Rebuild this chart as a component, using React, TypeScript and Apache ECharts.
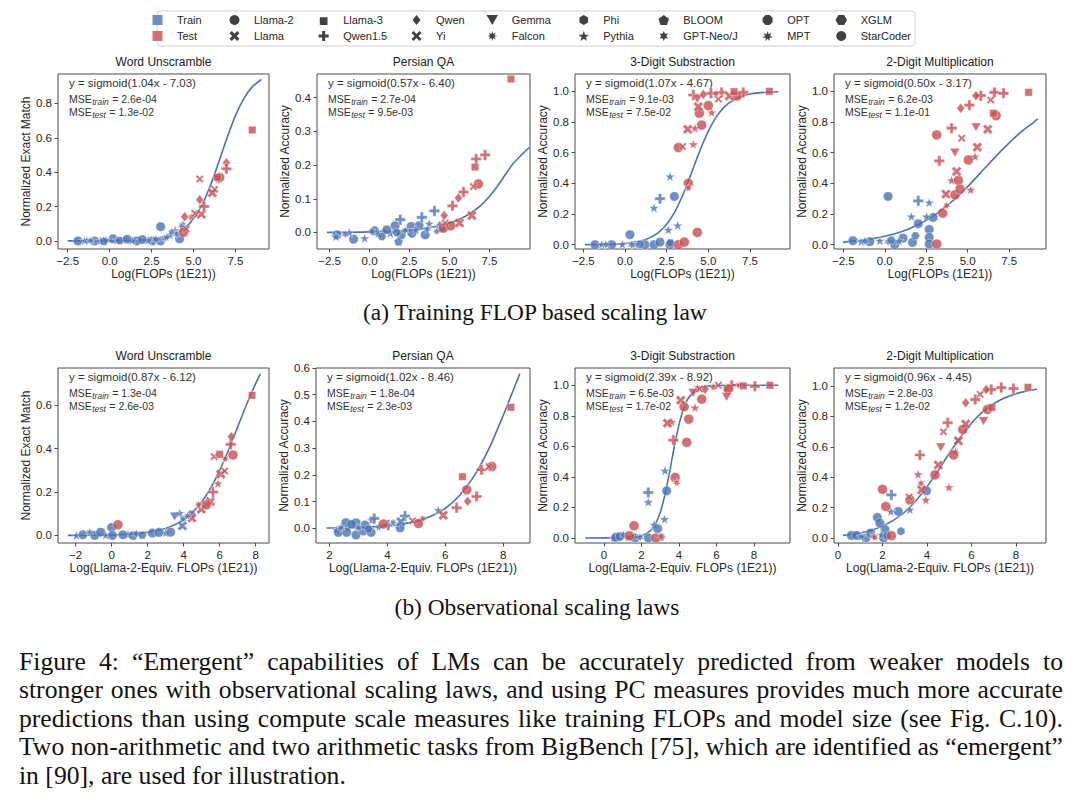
import React, { useEffect, useRef } from "react";
import * as echarts from "echarts";

// ---------------- data ----------------
const TASKS = ["Word Unscramble", "Persian QA", "3-Digit Substraction", "2-Digit Multiplication"];
const Y_NAMES = ["Normalized Exact Match", "Normalized Accuracy", "Normalized Accuracy", "Normalized Accuracy"];
const X_NAMES = ["Log(FLOPs (1E21))", "Log(Llama-2-Equiv. FLOPs (1E21))"];

const FORMULAS = [
  "y = sigmoid(1.04x - 7.03)", "y = sigmoid(0.57x - 6.40)", "y = sigmoid(1.07x - 4.67)", "y = sigmoid(0.50x - 3.17)",
  "y = sigmoid(0.87x - 6.12)", "y = sigmoid(1.02x - 8.46)", "y = sigmoid(2.39x - 8.92)", "y = sigmoid(0.96x - 4.45)",
];
const MSE_TRAIN = ["2.6e-04", "2.7e-04", "9.1e-03", "6.2e-03", "1.3e-04", "1.8e-04", "6.5e-03", "2.8e-03"];
const MSE_TEST = ["1.3e-02", "9.5e-03", "7.5e-02", "1.1e-01", "2.6e-03", "2.3e-03", "1.7e-02", "1.2e-02"];

const X_TICKS = [
  [-2.5, 0, 2.5, 5, 7.5], [-2.5, 0, 2.5, 5, 7.5], [-2.5, 0, 2.5, 5, 7.5], [-2.5, 0, 2.5, 5, 7.5],
  [-2, 0, 2, 4, 6, 8], [2, 4, 6, 8], [0, 2, 4, 6, 8], [0, 2, 4, 6, 8],
];
const Y_TICKS = [
  [0, 0.2, 0.4, 0.6, 0.8], [0, 0.1, 0.2, 0.3, 0.4], [0, 0.2, 0.4, 0.6, 0.8, 1.0], [0, 0.2, 0.4, 0.6, 0.8, 1.0],
  [0, 0.2, 0.4, 0.6], [0, 0.1, 0.2, 0.3, 0.4, 0.5, 0.6], [0, 0.2, 0.4, 0.6, 0.8, 1.0], [0, 0.2, 0.4, 0.6, 0.8, 1.0],
];
const X_LIMITS = [[-3.08, 9.5], [-3.29, 10.04], [-3.0, 9.9], [-3.06, 9.72], [-2.98, 8.74], [1.54, 8.92], [-1.55, 9.92], [-0.18, 9.35]];
const Y_LIMITS = [[-0.047, 0.971], [-0.049, 0.47], [-0.028, 1.113], [-0.028, 1.113], [-0.035, 0.772], [-0.055, 0.6], [-0.033, 1.113], [-0.033, 1.118]];

// points: [x, y, family code]
const WU_FLOP_TRAIN = [
  [-1.89, 0, "SC"], [-1.5, 0.002, "Py"], [-1.35, 0, "GN"], [-1.15, 0.001, "F"], [-0.9, 0, "SC"], [-0.55, 0.002, "Py"],
  [-0.35, 0, "B"], [-0.2, 0.003, "GN"], [0.2, 0.012, "SC"], [0.45, 0.004, "Py"], [0.6, 0.002, "X"], [0.85, 0.006, "GN"],
  [1.05, 0.01, "OPT"], [1.35, 0.003, "Py"], [1.6, 0, "SC"], [1.95, 0.008, "OPT"], [2.3, 0.004, "Py"], [2.55, 0, "SC"],
  [2.75, 0.01, "GN"], [3.04, 0.083, "SC"], [3.04, 0, "SC"], [3.25, 0.015, "F"], [3.4, 0.022, "MPT"], [3.6, 0.035, "Py"],
  [3.7, 0.05, "GN"], [3.9, 0.062, "Py"], [4.0, 0.04, "F"], [4.17, 0.012, "SC"], [4.3, 0.085, "MPT"], [4.37, 0.095, "GN"],
];
const WU_FLOP_TEST = [
  [4.4, 0.05, "L2"], [4.47, 0.14, "Q"], [4.57, 0.07, "Yi"], [4.87, 0.14, "MPT"], [5.07, 0.16, "Yi"], [5.37, 0.24, "Q"],
  [5.37, 0.36, "Yi"], [5.47, 0.155, "L"], [5.63, 0.2, "Q15"], [6.12, 0.28, "L"], [6.26, 0.3, "Yi"], [6.42, 0.37, "L3"],
  [6.56, 0.37, "L2"], [6.5, 0.35, "F"], [6.96, 0.455, "Q"], [6.96, 0.42, "Q15"], [8.5, 0.645, "L3"],
];
const PQA_FLOP_TRAIN = [
  [-2.04, -0.007, "SC"], [-2.1, -0.012, "Py"], [-1.52, -0.005, "GN"], [-1.27, 0, "Py"], [-1.0, -0.02, "SC"],
  [-0.31, -0.017, "Py"], [0.15, 0.003, "GN"], [0.31, 0.005, "SC"], [0.55, -0.003, "Py"], [0.77, -0.012, "X"],
  [0.9, 0.002, "GN"], [1.08, 0.008, "OPT"], [1.3, -0.002, "Py"], [1.6, 0.02, "SC"], [1.7, 0, "X"], [1.81, -0.027, "B"],
  [1.92, 0.038, "Q15"], [1.98, -0.007, "SC"], [2.23, 0.006, "GN"], [2.6, 0.018, "SC"], [2.65, -0.002, "SC"],
  [2.9, 0.008, "Py"], [3.1, 0.02, "SC"], [3.27, 0.045, "Q15"], [3.48, -0.007, "SC"], [3.6, 0.01, "MPT"],
  [3.73, 0.026, "Py"], [4.06, 0.064, "Q15"], [4.2, 0.003, "F"], [4.4, 0.025, "MPT"], [4.48, 0.013, "OPT"],
];
const PQA_FLOP_TEST = [
  [4.62, 0.013, "L2"], [4.67, 0.05, "Q"], [4.73, 0.028, "Yi"], [5.08, 0.02, "L2"], [5.19, 0.079, "Q15"],
  [5.56, 0.102, "Q"], [5.63, 0.028, "L"], [5.88, 0.12, "Q15"], [6.4, 0.05, "L"], [6.5, 0.136, "Yi"],
  [6.6, 0.194, "L3"], [6.67, 0.218, "Q15"], [6.81, 0.144, "L2"], [7.23, 0.23, "Q15"], [8.85, 0.455, "L3"],
];
const SUB_FLOP_TRAIN = [
  [-1.8, 0, "SC"], [-1.4, 0.002, "Py"], [-1.15, 0, "GN"], [-0.8, 0, "SC"], [-0.16, 0.003, "Py"], [0.3, 0.065, "SC"],
  [0.4, 0, "GN"], [0.6, 0.003, "Py"], [0.9, 0.002, "X"], [1.2, 0, "SC"], [1.74, 0.24, "Py"], [1.74, 0, "SC"],
  [2.1, 0.3, "Q15"], [2.1, 0.017, "SC"], [2.6, 0.097, "Py"], [2.7, 0.445, "Py"], [2.7, 0, "SC"], [2.72, 0.012, "X"],
  [2.96, 0.315, "SC"], [3.16, 0.126, "Py"],
];
const SUB_FLOP_TEST = [
  [3.2, 0, "L2"], [3.56, 0.017, "L2"], [3.2, 0.633, "L2"], [3.46, 0.64, "Yi"], [3.8, 0.4, "L2"], [3.8, 0.37, "MPT"],
  [3.76, 0.753, "L"], [4.1, 0.655, "Py"], [4.2, 0.76, "Py"], [4.34, 0.08, "L2"], [4.1, 0.976, "Q15"], [4.34, 0.95, "G"],
  [4.4, 0.9, "L"], [4.46, 0.857, "L2"], [4.6, 0.78, "L2"], [4.7, 0.98, "Q"], [5.0, 0.907, "L2"], [5.16, 0.987, "Q15"],
  [5.2, 0.863, "Py"], [5.46, 0.987, "MPT"], [5.6, 0.95, "Yi"], [5.8, 0.993, "Q15"], [6.26, 0.97, "L"],
  [6.54, 0.998, "L3"], [6.72, 0.97, "L2"], [7.1, 0.993, "Q15"], [8.66, 1.0, "L3"],
];
const MUL_FLOP_TRAIN = [
  [-1.92, 0.026, "SC"], [-1.41, 0.02, "Py"], [-1.2, 0.022, "GN"], [-0.9, 0.02, "SC"], [-0.3, 0.026, "Py"],
  [0.2, 0.315, "SC"], [0.2, 0.02, "GN"], [0.4, 0.03, "X"], [0.6, 0, "SC"], [0.85, 0.025, "Py"], [1.1, 0.043, "SC"],
  [1.61, 0.184, "Py"], [1.67, 0.015, "SC"], [1.85, 0.058, "X"], [2.02, 0.137, "SC"], [2.02, 0.286, "Q15"],
  [2.52, 0.184, "Py"], [2.68, 0.275, "Py"], [2.68, 0.1, "SC"], [2.68, 0.048, "SC"], [2.68, 0.004, "SC"], [2.92, 0.178, "SC"],
];
const MUL_FLOP_TEST = [
  [3.13, 0.004, "L2"], [3.13, 0.716, "L2"], [3.29, 0.547, "Q15"], [3.49, 0.206, "L2"], [3.73, 0.256, "MPT"],
  [3.69, 0.33, "L"], [4.03, 0.42, "Py"], [4.03, 0.76, "Q15"], [4.23, 0.6, "G"], [4.23, 0.325, "L2"], [4.33, 0.477, "L"],
  [4.44, 0.419, "L2"], [4.54, 0.362, "L2"], [4.58, 0.889, "Q"], [4.64, 0.694, "Yi"], [5.04, 0.553, "L2"],
  [5.1, 0.91, "Q15"], [5.18, 0.358, "Py"], [5.44, 0.575, "Py"], [5.5, 0.766, "G"], [5.58, 0.636, "L"], [5.5, 0.972, "Q"],
  [5.79, 0.972, "Q15"], [6.21, 0.753, "L"], [6.39, 0.944, "Yi"], [6.61, 0.993, "Q15"], [6.55, 0.857, "L3"],
  [6.71, 0.842, "L2"], [7.16, 0.987, "Q15"], [8.67, 0.993, "L3"],
];
const WU_OBS_TRAIN = [
  [-1.96, 0, "Py"], [-1.6, 0.003, "SC"], [-1.22, 0.014, "GN"], [-0.94, 0, "SC"], [-0.61, 0.015, "SC"], [-0.33, 0.001, "Py"],
  [0, 0.037, "SC"], [0.04, 0, "SC"], [0.63, 0.003, "SC"], [0.9, 0.005, "Py"], [1.19, 0, "SC"], [1.37, 0.008, "GN"],
  [1.7, 0.001, "X"], [2.26, 0.011, "SC"], [2.63, 0.014, "SC"], [3.0, 0.012, "Py"], [3.28, 0.015, "SC"], [3.5, 0.087, "G"],
  [3.78, 0.103, "Py"], [3.93, 0.044, "L"], [3.96, 0.077, "GN"], [4.2, 0.09, "MPT"], [4.43, 0.098, "X"],
];
const WU_OBS_TEST = [
  [0.35, 0.049, "L2"], [4.46, 0.08, "L"], [4.83, 0.144, "MPT"], [4.98, 0.121, "L"], [5.26, 0.141, "L2"], [5.48, 0.156, "L"],
  [5.63, 0.2, "Q15"], [5.91, 0.24, "Py"], [6.06, 0.282, "L"], [6.28, 0.297, "Yi"], [5.69, 0.363, "Yi"], [6.0, 0.374, "L3"],
  [6.31, 0.355, "MPT"], [6.61, 0.42, "Q15"], [6.65, 0.455, "Q"], [6.74, 0.371, "L2"], [7.8, 0.646, "L3"],
];
const PQA_OBS_TRAIN = [
  [2.25, -0.006, "Py"], [2.31, -0.015, "SC"], [2.4, 0.002, "GN"], [2.57, 0.021, "SC"], [2.6, -0.015, "SC"],
  [2.65, 0.002, "Py"], [2.77, 0.015, "OPT"], [2.92, 0.021, "SC"], [2.92, -0.025, "SC"], [3.0, 0.002, "GN"],
  [3.17, -0.01, "SC"], [3.23, 0.012, "SC"], [3.35, -0.003, "X"], [3.44, -0.015, "SC"], [3.46, 0.031, "Py"],
  [3.55, 0.037, "Q15"], [3.7, 0.005, "MPT"], [4.03, 0.012, "Q15"], [4.2, 0.022, "F"], [4.44, 0.002, "SC"],
  [4.47, 0.025, "L"], [4.61, 0.046, "Q15"], [5.76, 0.068, "Py"],
];
const PQA_OBS_TEST = [
  [3.86, 0.016, "L2"], [4.87, 0.028, "Yi"], [5.07, 0.018, "L2"], [5.22, 0.037, "MPT"], [5.93, 0.049, "L"],
  [6.39, 0.077, "Q15"], [6.59, 0.193, "L3"], [6.74, 0.144, "L2"], [6.77, 0.101, "Q"], [7.08, 0.119, "Q15"],
  [7.25, 0.219, "Q15"], [7.5, 0.231, "Yi"], [7.6, 0.231, "L2"], [8.26, 0.453, "L3"],
];
const SUB_OBS_TRAIN = [
  [0.5, 0, "Py"], [0.62, 0.004, "SC"], [0.85, 0.01, "SC"], [1.03, 0.02, "GN"], [1.3, 0.003, "Py"], [1.65, 0, "SC"],
  [1.92, 0.004, "GN"], [2.36, 0, "SC"], [2.36, 0.298, "Q15"], [2.36, 0.235, "Py"], [2.67, 0.087, "Py"],
  [2.86, 0.061, "SC"], [3.04, 0.005, "X"], [3.22, 0.124, "Py"], [3.25, 0.441, "Py"], [3.34, 0.309, "SC"],
];
const SUB_OBS_TEST = [
  [1.35, 0.015, "L2"], [1.6, 0.08, "L2"], [2.76, 0, "L2"], [3.04, 0.01, "MPT"], [3.79, 0.396, "L2"], [3.88, 0.363, "MPT"],
  [3.38, 0.752, "L"], [3.61, 0.761, "Py"], [3.7, 0.641, "Q15"], [4.09, 0.902, "L"], [4.27, 0.859, "L2"],
  [4.41, 0.626, "L2"], [4.52, 0.778, "L2"], [4.85, 0.854, "Py"], [4.76, 0.95, "G"], [4.98, 0.983, "MPT"],
  [5.1, 0.975, "Yi"], [5.21, 0.909, "L2"], [5.39, 0.974, "Q"], [5.83, 0.989, "MPT"], [6.1, 1.0, "Yi"], [6.54, 0.924, "G"],
  [6.54, 0.983, "Py"], [6.63, 0.974, "L2"], [6.81, 1.0, "Q15"], [7.2, 1.0, "MPT"], [7.43, 0.996, "L3"],
  [8.05, 0.993, "Q15"], [8.85, 1.0, "L3"],
];
const MUL_OBS_TRAIN = [
  [0.6, 0.017, "SC"], [0.83, 0.017, "SC"], [1.05, 0.011, "Py"], [1.25, 0, "SC"], [1.47, 0.033, "SC"], [1.6, 0.01, "GN"],
  [1.77, 0.135, "SC"], [1.88, 0.098, "SC"], [1.95, 0.022, "Py"], [2.05, 0, "SC"], [2.11, 0.055, "SC"], [2.2, 0.015, "X"],
  [2.4, 0.284, "Q15"], [2.38, 0.175, "Py"], [2.71, 0.175, "SC"], [2.83, 0.044, "Phi"], [3.23, 0.186, "Py"], [3.98, 0.31, "SC"],
];
const MUL_OBS_TEST = [
  [1.65, 0.005, "MPT"], [2.0, 0.32, "L2"], [2.15, 0.207, "L2"], [2.4, 0.015, "L2"], [3.23, 0.251, "L2"], [3.2, 0.27, "Yi"],
  [3.6, 0.419, "Py"], [3.68, 0.546, "Q15"], [3.73, 0.36, "MPT"], [3.76, 0.317, "L"], [3.95, 0.251, "Py"],
  [4.36, 0.415, "L2"], [4.51, 0.48, "L"], [4.62, 0.596, "G"], [4.74, 0.699, "Yi"], [4.93, 0.758, "Q15"],
  [4.99, 0.334, "Py"], [5.2, 0.546, "L2"], [5.28, 0.57, "MPT"], [5.41, 0.64, "L"], [5.61, 0.714, "L2"],
  [5.74, 0.749, "L"], [5.74, 0.889, "Q"], [6.17, 0.91, "Q15"], [6.39, 0.945, "Yi"], [6.54, 0.769, "G"],
  [6.66, 0.976, "Q"], [6.89, 0.976, "Q15"], [6.72, 0.845, "L2"], [6.92, 0.858, "L3"], [7.34, 0.989, "Q15"],
  [7.89, 0.983, "Q15"], [8.54, 0.991, "L3"],
];

// fitted curves
const WU_FLOP_FIT = [[-2.5, 0.0], [0, 0.0005], [1, 0.0014], [2, 0.0045], [3, 0.014], [3.5, 0.025], [4, 0.044], [4.5, 0.076], [5, 0.129], [5.5, 0.209], [6, 0.32], [6.5, 0.457], [7, 0.6], [7.5, 0.729], [8, 0.828], [8.5, 0.896], [9.05, 0.939]];
const PQA_FLOP_FIT = [[-2.67, 0.0004], [0, 0.0017], [2, 0.0052], [3, 0.0091], [4, 0.016], [5, 0.028], [5.5, 0.037], [6, 0.048], [6.5, 0.063], [7, 0.082], [7.5, 0.107], [8, 0.137], [8.5, 0.172], [9, 0.205], [9.5, 0.23], [10.0, 0.252]];
const SUB_FLOP_FIT = [[-2.4, 0.0005], [-1, 0.0026], [0, 0.008], [1, 0.026], [1.5, 0.046], [2, 0.079], [2.5, 0.134], [3, 0.216], [3.5, 0.332], [4, 0.471], [4.5, 0.615], [5, 0.741], [5.5, 0.837], [6, 0.902], [6.5, 0.943], [7, 0.967], [7.5, 0.982], [8, 0.99], [8.5, 0.994], [9.2, 0.997]];
const MUL_FLOP_FIT = [[-2.52, 0.017], [-2, 0.022], [-1, 0.035], [0, 0.055], [1, 0.085], [2, 0.13], [3, 0.193], [4, 0.277], [5, 0.379], [6, 0.495], [7, 0.61], [8, 0.715], [9, 0.8], [9.23, 0.82]];
const WU_OBS_FIT = [[-2.43, 0.0003], [0, 0.0026], [1, 0.006], [2, 0.014], [3, 0.032], [3.5, 0.049], [4, 0.072], [4.5, 0.107], [5, 0.154], [5.5, 0.218], [6, 0.3], [6.5, 0.395], [7, 0.5], [7.5, 0.605], [8, 0.7], [8.26, 0.745]];
const PQA_OBS_FIT = [[1.9, 0.0009], [3, 0.003], [4, 0.009], [5, 0.026], [5.5, 0.045], [6, 0.075], [6.5, 0.124], [7, 0.197], [7.5, 0.297], [8, 0.423], [8.3, 0.505], [8.57, 0.579]];
const SUB_OBS_FIT = [[-1.0, 0.0], [1, 0.001], [1.5, 0.0037], [2, 0.014], [2.5, 0.05], [2.75, 0.094], [3, 0.168], [3.25, 0.283], [3.5, 0.434], [3.75, 0.599], [4, 0.744], [4.25, 0.85], [4.5, 0.917], [5, 0.977], [5.5, 0.994], [6, 0.998], [7, 1.0], [9.3, 1.0]];
const MUL_OBS_FIT = [[0.23, 0.017], [1, 0.033], [1.5, 0.051], [2, 0.078], [2.5, 0.117], [3, 0.171], [3.5, 0.245], [4, 0.337], [4.5, 0.444], [5, 0.556], [5.5, 0.663], [6, 0.755], [6.5, 0.829], [7, 0.883], [7.5, 0.922], [8, 0.949], [8.5, 0.967], [8.95, 0.978]];

const FAMILY_NAMES = {
  L2: "Llama-2", L: "Llama", L3: "Llama-3", Q15: "Qwen1.5", Q: "Qwen", Yi: "Yi", G: "Gemma", F: "Falcon",
  Phi: "Phi", Py: "Pythia", B: "BLOOM", GN: "GPT-Neo/J", OPT: "OPT", MPT: "MPT", X: "XGLM", SC: "StarCoder",
};
const LEGEND_COLUMNS = [
  ["Train", "Test"], ["Llama-2", "Llama"], ["Llama-3", "Qwen1.5"], ["Qwen", "Yi"], ["Gemma", "Falcon"],
  ["Phi", "Pythia"], ["BLOOM", "GPT-Neo/J"], ["OPT", "MPT"], ["XGLM", "StarCoder"],
];

const CAPTION_A = "(a) Training FLOP based scaling law";
const CAPTION_B = "(b) Observational scaling laws";
const PARAGRAPH = [
  "Figure 4: \u201cEmergent\u201d capabilities of LMs can be accurately predicted from weaker models to",
  "stronger ones with observational scaling laws, and using PC measures provides much more accurate",
  "predictions than using compute scale measures like training FLOPs and model size (see Fig. C.10).",
  "Two non-arithmetic and two arithmetic tasks from BigBench [75], which are identified as \u201cemergent\u201d",
  "in [90], are used for illustration.",
];

const PANEL_TRAIN = [WU_FLOP_TRAIN, PQA_FLOP_TRAIN, SUB_FLOP_TRAIN, MUL_FLOP_TRAIN, WU_OBS_TRAIN, PQA_OBS_TRAIN, SUB_OBS_TRAIN, MUL_OBS_TRAIN];
const PANEL_TEST = [WU_FLOP_TEST, PQA_FLOP_TEST, SUB_FLOP_TEST, MUL_FLOP_TEST, WU_OBS_TEST, PQA_OBS_TEST, SUB_OBS_TEST, MUL_OBS_TEST];
const PANEL_FIT = [WU_FLOP_FIT, PQA_FLOP_FIT, SUB_FLOP_FIT, MUL_FLOP_FIT, WU_OBS_FIT, PQA_OBS_FIT, SUB_OBS_FIT, MUL_OBS_FIT];

// ---------------- layout & style ----------------
const GRIDS = [
  [58, 74, 211, 175], [317, 74, 213, 175], [575, 74, 215, 175], [834, 74, 212, 175],
  [58, 368, 211, 175], [316, 368, 214, 175], [575, 368, 215, 175], [834, 368, 212, 175],
];
const LEGEND_ICON_X = [167, 244, 332, 426, 501, 593, 673, 777, 850];
const BLUE = "#4c72b0";
const RED = "#c44e52";
const AX = "#4a4a4a";
const TXT = "#262626";
const SANS = '"Liberation Sans", Arial, sans-serif';
const SERIF = '"Liberation Serif", "Times New Roman", serif';

// symbol geometry helpers
const pathOf = (pts) => "path://M" + pts.map(([x, y]) => `${x.toFixed(2)} ${y.toFixed(2)}`).join(" L") + " Z";
const regular = (n, r, rot) =>
  Array.from({ length: n }, (_, i) => {
    const a = rot + (i * 2 * Math.PI) / n;
    return [r * Math.cos(a), r * Math.sin(a)];
  });
const star = (n, ro, ri, rot) =>
  Array.from({ length: 2 * n }, (_, i) => {
    const a = rot + (i * Math.PI) / n;
    const r = i % 2 ? ri : ro;
    return [r * Math.cos(a), r * Math.sin(a)];
  });
const cross = (a, rot) => {
  const base = [[-a, -1], [a, -1], [a, -a], [1, -a], [1, a], [a, a], [a, 1], [-a, 1], [-a, a], [-1, a], [-1, -a], [-a, -a]];
  const c = Math.cos(rot), s = Math.sin(rot);
  return base.map(([x, y]) => [10 * (x * c - y * s), 10 * (x * s + y * c)]);
};
const SQUARE = pathOf([[0, 0], [10, 0], [10, 10], [0, 10]]);
// small square padded inside a larger box so it renders smaller in the legend
const SMALL_SQUARE = "path://M-3 -3 L13 -3 L13 -2.99 L-3 -2.99 Z M0 0 L10 0 L10 10 L0 10 Z";

const SYM = {
  L2: { symbol: "circle", size: 10 },
  SC: { symbol: "circle", size: 9.5 },
  L: { symbol: pathOf(cross(0.3, Math.PI / 4)), size: 10 },
  L3: { symbol: SQUARE, size: 7.5 },
  Q15: { symbol: pathOf(cross(0.3, 0)), size: 10.5 },
  Q: { symbol: pathOf([[0, -10], [8, 0], [0, 10], [-8, 0]]), size: 10 },
  Yi: { symbol: pathOf(cross(0.24, Math.PI / 4)), size: 8 },
  G: { symbol: pathOf(regular(3, 10, Math.PI / 2)), size: 10 },
  F: { symbol: pathOf(star(8, 10, 4.5, -Math.PI / 2)), size: 9 },
  Phi: { symbol: pathOf(regular(6, 10, -Math.PI / 2)), size: 9 },
  Py: { symbol: pathOf(star(5, 10, 4, -Math.PI / 2)), size: 10 },
  B: { symbol: pathOf(regular(5, 10, -Math.PI / 2)), size: 9 },
  GN: { symbol: pathOf(star(6, 10, 5, -Math.PI / 2)), size: 9 },
  OPT: { symbol: pathOf(regular(8, 10, Math.PI / 8)), size: 9 },
  MPT: { symbol: pathOf(star(7, 10, 4.5, -Math.PI / 2)), size: 9 },
  X: { symbol: pathOf(regular(6, 10, 0)), size: 9 },
};

const fmt = (v, dec) => v.toFixed(dec).replace("-", "\u2212");

let measureCtx = null;
const measure = (text, font) => {
  if (!measureCtx) measureCtx = document.createElement("canvas").getContext("2d");
  measureCtx.font = font;
  return measureCtx.measureText(text).width;
};

function textEl(text, x, y, size, family, opts = {}) {
  return {
    type: "text",
    x,
    y,
    silent: true,
    style: {
      text,
      fontSize: size,
      fontFamily: family,
      fontStyle: opts.italic ? "italic" : "normal",
      fill: opts.fill || TXT,
      textAlign: opts.align || "left",
      textVerticalAlign: "middle",
    },
  };
}

function buildOption() {
  const grid = GRIDS.map(([l, t, w, h]) => ({
    left: l, top: t, width: w, height: h, show: true, borderColor: AX, borderWidth: 1,
    backgroundColor: "rgba(0,0,0,0)", containLabel: false, outerBoundsMode: "none",
  }));
  const xAxis = GRIDS.map((_, i) => ({
    type: "value", gridIndex: i, min: X_LIMITS[i][0], max: X_LIMITS[i][1], position: "bottom",
    name: X_NAMES[i < 4 ? 0 : 1], nameLocation: "middle", nameGap: 16,
    nameTextStyle: { fontSize: 12, color: TXT, fontFamily: SANS },
    axisLine: { show: false, onZero: false }, splitLine: { show: false },
    axisTick: { show: true, customValues: X_TICKS[i], length: 3.5, lineStyle: { color: AX } },
    axisLabel: { customValues: X_TICKS[i], formatter: (v) => fmt(v, i < 4 ? 1 : 0), fontSize: 11.5, color: TXT, margin: 6, fontFamily: SANS },
  }));
  const yAxis = GRIDS.map((_, i) => ({
    type: "value", gridIndex: i, min: Y_LIMITS[i][0], max: Y_LIMITS[i][1], position: "left",
    name: Y_NAMES[i % 4], nameLocation: "middle", nameGap: 24,
    nameTextStyle: { fontSize: 12, color: TXT, fontFamily: SANS },
    axisLine: { show: false, onZero: false }, splitLine: { show: false },
    axisTick: { show: true, customValues: Y_TICKS[i], length: 3.5, lineStyle: { color: AX } },
    axisLabel: { customValues: Y_TICKS[i], formatter: (v) => fmt(v, 1), fontSize: 11.5, color: TXT, margin: 6, fontFamily: SANS },
  }));

  const series = [];
  series.push({ type: "scatter", name: "Train", xAxisIndex: 0, yAxisIndex: 0, data: [], symbol: SQUARE, symbolKeepAspect: true, itemStyle: { color: BLUE } });
  series.push({ type: "scatter", name: "Test", xAxisIndex: 0, yAxisIndex: 0, data: [], symbol: SQUARE, symbolKeepAspect: true, itemStyle: { color: RED } });
  GRIDS.forEach((_, i) => {
    series.push({
      type: "line", name: "fit", xAxisIndex: i, yAxisIndex: i, data: PANEL_FIT[i], smooth: 0.3,
      symbol: "none", lineStyle: { color: BLUE, width: 1.6 }, z: 2, silent: true,
    });
    const pts = [...PANEL_TRAIN[i].map((p) => [...p, 0]), ...PANEL_TEST[i].map((p) => [...p, 1])];
    const codes = Array.from(new Set(pts.map((p) => p[2])));
    codes.forEach((code) => {
      const s = SYM[code];
      series.push({
        type: "scatter", name: FAMILY_NAMES[code], xAxisIndex: i, yAxisIndex: i,
        symbol: s.symbol, symbolSize: s.size, symbolKeepAspect: true, z: 3,
        itemStyle: { color: "#111", borderColor: "#fff", borderWidth: 0.5 },
        data: pts.filter((p) => p[2] === code).map((p) => ({ value: [p[0], p[1]], itemStyle: { color: p[3] ? RED : BLUE } })),
      });
    });
  });

  const legend = LEGEND_COLUMNS.map((names, i) => ({
    orient: "vertical", left: LEGEND_ICON_X[i] - 14.5, top: 13, itemWidth: 29, itemHeight: 10, itemGap: 2,
    padding: 0, selectedMode: false, symbolKeepAspect: true,
    data: names.map((n) => (n === "Llama-3" ? { name: n, icon: SMALL_SQUARE } : n)),
    itemStyle: { borderWidth: 0 },
    textStyle: { fontSize: 11, color: TXT, fontFamily: SANS, lineHeight: 14 },
  }));

  const graphics = [];
  graphics.push({ type: "rect", shape: { x: 157, y: 11, width: 758, height: 35, r: 3 }, style: { fill: "#fff", stroke: "#cfcfcf", lineWidth: 1 }, z: 0, silent: true });

  GRIDS.forEach(([l, t, w], i) => {
    graphics.push(textEl(TASKS[i % 4], l + w / 2, t - 12, 12, SANS, { align: "center", fill: "#1a1a1a" }));
    graphics.push(textEl(FORMULAS[i], l + 11, t + 8.5, 11.5, SANS, { fill: "#333" }));
    const f1 = `10.5px ${SANS}`;
    const f2 = `italic 8.5px ${SANS}`;
    const mseW = measure("MSE", f1);
    [["train", MSE_TRAIN[i], t + 25], ["test", MSE_TEST[i], t + 37.5]].forEach(([sub, val, y]) => {
      graphics.push(textEl("MSE", l + 11, y, 10.5, SANS, { fill: "#333" }));
      graphics.push(textEl(sub, l + 11 + mseW + 0.5, y + 3, 8.5, SANS, { fill: "#333", italic: true }));
      const subW = measure(sub, f2);
      graphics.push(textEl(" = " + val, l + 11 + mseW + 1 + subW, y, 10.5, SANS, { fill: "#333" }));
    });
  });

  // captions (serif), sized to match the reference widths
  const capSize = (100 * 345) / measure(CAPTION_A, `100px ${SERIF}`);
  graphics.push(textEl(CAPTION_A, 363, 312, capSize, SERIF, { fill: "#111" }));
  graphics.push(textEl(CAPTION_B, 537, 607, capSize, SERIF, { fill: "#111", align: "center" }));

  const pSize = (100 * 327) / measure(PARAGRAPH[4], `100px ${SERIF}`);
  const pFont = `${pSize}px ${SERIF}`;
  const LEFT = 19, RIGHT = 1063;
  PARAGRAPH.forEach((line, li) => {
    const y = 661 + li * 28.6;
    if (li === PARAGRAPH.length - 1) {
      graphics.push(textEl(line, LEFT, y, pSize, SERIF, { fill: "#111" }));
      return;
    }
    const words = line.split(" ");
    const widths = words.map((w) => measure(w, pFont));
    const total = widths.reduce((a, b) => a + b, 0);
    const gap = (RIGHT - LEFT - total) / (words.length - 1);
    let x = LEFT;
    words.forEach((w, wi) => {
      graphics.push(textEl(w, x, y, pSize, SERIF, { fill: "#111" }));
      x += widths[wi] + gap;
    });
  });

  return {
    animation: false,
    backgroundColor: "#fff",
    textStyle: { fontFamily: SANS },
    grid, xAxis, yAxis, series, legend,
    graphic: { elements: graphics },
  };
}

export default function App() {
  const ref = useRef(null);
  useEffect(() => {
    const chart = echarts.init(ref.current, null, { renderer: "svg" });
    chart.setOption(buildOption());
    return () => chart.dispose();
  }, []);
  return <div ref={ref} style={{ position: "fixed", left: 0, top: 0, width: 1080, height: 802, background: "#fff" }} />;
}
